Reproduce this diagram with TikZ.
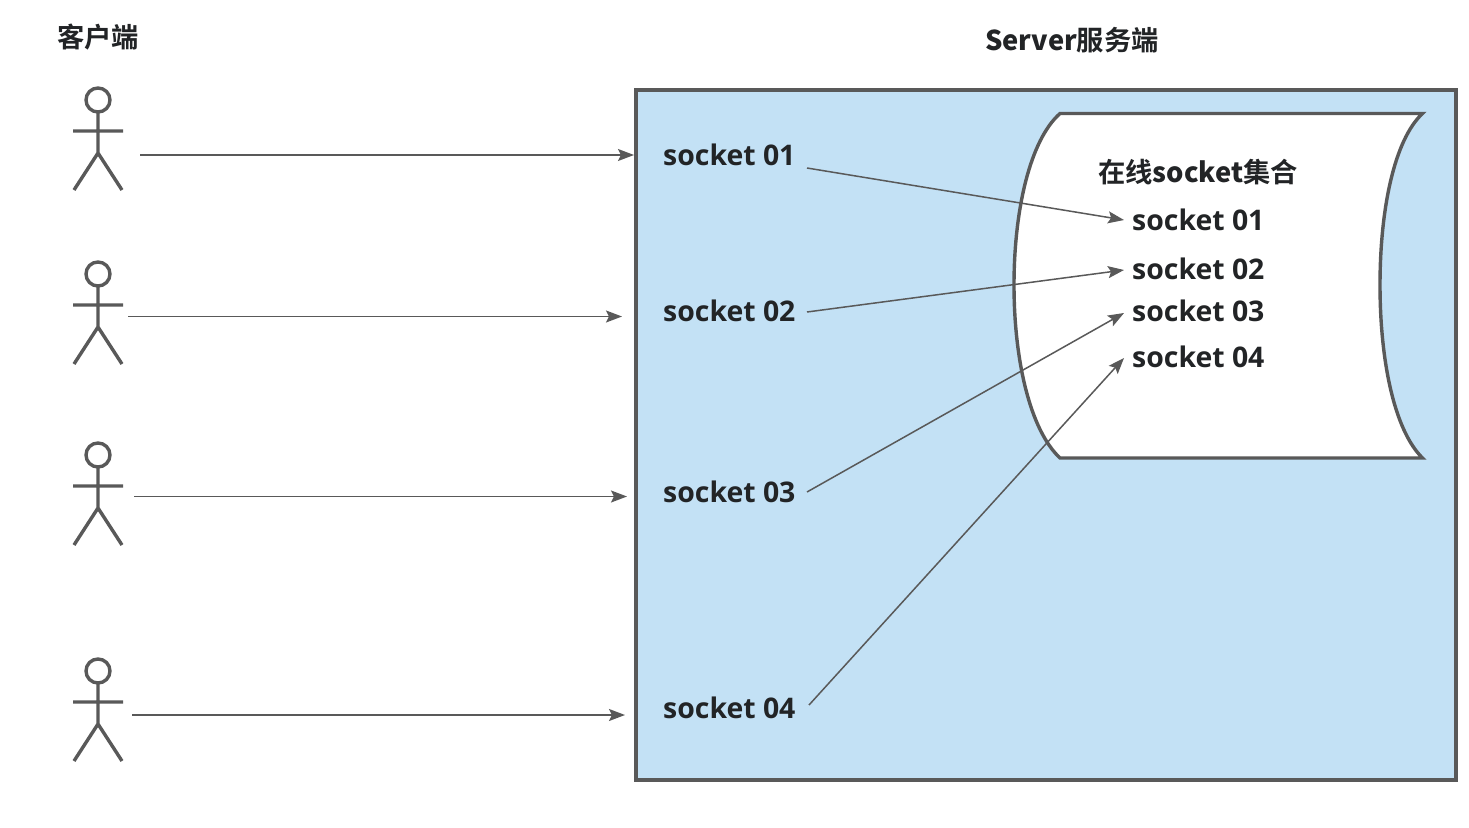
\documentclass[tikz,border=0pt]{standalone}
\usepackage{fontspec}
\usepackage{tikz}
\usetikzlibrary{arrows.meta}
\setmainfont{Open Sans}[BoldFont={Open Sans Bold}]
\newfontfamily\cjkbold{Noto Sans CJK SC Bold}
\definecolor{srvblue}{HTML}{C3E1F5}
\definecolor{srvgray}{HTML}{595959}
\definecolor{srvtext}{HTML}{222426}
\tikzset{
  title/.style={text=srvtext, inner sep=0pt, font=\cjkbold\fontsize{27.3}{30}\selectfont},
  sock/.style={text=srvtext, inner sep=0pt, anchor=west, font=\bfseries\fontsize{28.4}{30}\selectfont},
  link/.style={draw=srvgray, line width=1.5pt, -{Stealth[length=16pt,width=12pt,inset=3pt]}},
  actor/.pic={
    \draw[srvgray, line width=3.4pt] (0,0) circle (12)
      (0,12) -- (0,53) (-25,31) -- (25,31) (-24,90) -- (0,53) -- (24,90);
  }
}
\begin{document}
\begin{tikzpicture}[x=1pt,y=-1pt]
\useasboundingbox[fill=white] (0,0) rectangle (1469,827);
\node[draw=srvgray, fill=srvblue, line width=3.5pt, minimum width=820pt, minimum height=690pt, inner sep=0pt] (server) at (1046,435) {};
\path[draw=srvgray, fill=white, line width=3.4pt, line join=miter] (1060,113.5) -- (1422.5,113.5)
  .. controls (1394,140) and (1380,210) .. (1380,285)
  .. controls (1380,360) and (1394,430) .. (1422.5,458)
  -- (1060,458)
  .. controls (1030,430) and (1014,360) .. (1014,285)
  .. controls (1014,210) and (1030,140) .. (1060,113.5) -- cycle;

\node[title] (clients) at (98,37) {客户端};
\node[title] (servertitle) at (1072,40) {{\bfseries Server}服务端};
\node[title] (settitle) at (1198,172) {在线{\bfseries socket}集合};

% clients
\pic at (98,100) {actor};
\pic at (98,274) {actor};
\pic at (98,455) {actor};
\pic at (98,671) {actor};

% sockets in the server
\node[sock] (sa) at (663,155) {socket 01};
\node[sock] (sb) at (663,311) {socket 02};
\node[sock] (sc) at (663,492) {socket 03};
\node[sock] (sd) at (663,708) {socket 04};

% sockets in the set
\node[sock] (ta) at (1132,220) {socket 01};
\node[sock] (tb) at (1132,269) {socket 02};
\node[sock] (tc) at (1132,311) {socket 03};
\node[sock] (td) at (1132,357) {socket 04};

\coordinate (ca) at (140,155);
\coordinate (cb) at (128,316.5);
\coordinate (cc) at (134,496.5);
\coordinate (cd) at (132,715);
\coordinate (ea) at (634,155);
\coordinate (eb) at (622,316.5);
\coordinate (ec) at (627,496.5);
\coordinate (ed) at (625,715);
\draw[link] (ca) -- (ea);
\draw[link] (cb) -- (eb);
\draw[link] (cc) -- (ec);
\draw[link] (cd) -- (ed);

\coordinate (oa) at (807,168);
\coordinate (ob) at (807,312);
\coordinate (oc) at (807,492);
\coordinate (od) at (809,705);
\coordinate (ia) at (1124,220);
\coordinate (ib) at (1124,270);
\coordinate (ic) at (1124,313);
\coordinate (id) at (1124,358);
\draw[link] (oa) -- (ia);
\draw[link] (ob) -- (ib);
\draw[link] (oc) -- (ic);
\draw[link] (od) -- (id);
\end{tikzpicture}
\end{document}
